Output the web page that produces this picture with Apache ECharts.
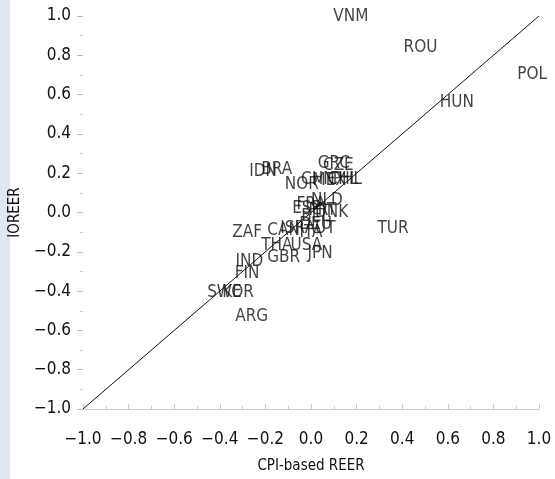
<!DOCTYPE html>
<html>
<head>
<meta charset="utf-8">
<script src="https://cdn.jsdelivr.net/npm/echarts@6/dist/echarts.min.js"></script>
<style>body{margin:0;background:#fff}#strip{position:absolute;left:0;top:0;width:10px;height:479px;background:#dfe7f3}</style>
</head>
<body>
<div id="strip"></div>
<div id="main" style="width:555px;height:479px;"></div>
<script>
var countries = ['VNM','ROU','POL','HUN','TUR','IDN','BRA','GRC','CZE','NOR','CHN','PHL','MEX','CHL','NLD','ESP','FRA','DNK','BEL','PRT','ZAF','CAN','ISR','ITA','AUT','DEU','THA','USA','GBR','JPN','IND','FIN','SWE','KOR','ARG'];
var cpiReer = [0.175,0.48,0.97,0.64,0.36,-0.21,-0.15,0.10,0.12,-0.04,0.03,0.16,0.08,0.14,0.07,-0.02,0.0,0.09,0.02,0.05,-0.28,-0.12,-0.08,0.0,0.04,0.02,-0.15,-0.02,-0.12,0.04,-0.27,-0.28,-0.38,-0.32,-0.26];
var ioReer = [0.995,0.84,0.70,0.56,-0.08,0.21,0.22,0.25,0.24,0.14,0.17,0.17,0.16,0.17,0.06,0.02,0.04,0.0,-0.02,0.01,-0.10,-0.09,-0.08,-0.10,-0.08,-0.06,-0.17,-0.17,-0.23,-0.21,-0.25,-0.31,-0.41,-0.41,-0.53];
var diagonal = [[-1,-1],[1,1]];

var font = '"DejaVu Sans Condensed","Liberation Sans Narrow",Roboto,sans-serif';
var fmt = function(v){return (v<0?'\u2212':'')+Math.abs(v).toFixed(1);};
var pts = countries.map(function(c,i){ return {name:c, value:[cpiReer[i], ioReer[i]]}; });
var chart = echarts.init(document.getElementById('main'));
chart.setOption({
  animation:false,
  grid:{left:81,right:16,top:16,bottom:69},
  xAxis:{type:'value',min:-1,max:1,interval:0.2,name:'CPI-based REER',nameLocation:'middle',nameGap:50,
    nameTextStyle:{color:'#111',fontSize:15,fontFamily:font},
    axisLine:{show:true,onZero:false,lineStyle:{color:'#ccc'}},axisTick:{show:true,inside:true,length:5,lineStyle:{color:'#ccc'}},
    minorTick:{show:true,splitNumber:2,length:3,lineStyle:{color:'#ccc'}},
    splitLine:{show:false},
    axisLabel:{color:'#111',fontSize:17,fontFamily:font,margin:22,formatter:fmt}},
  yAxis:{type:'value',min:-1,max:1,interval:0.2,name:'IOREER',nameLocation:'middle',nameGap:56,
    nameTextStyle:{color:'#111',fontSize:15,fontFamily:font},
    axisLine:{show:false,onZero:false},axisTick:{show:true,length:6,lineStyle:{color:'#bbb'}},
    minorTick:{show:true,splitNumber:2,length:3,lineStyle:{color:'#ccc'}},
    splitLine:{show:false},
    axisLabel:{color:'#111',fontSize:17,fontFamily:font,margin:12,formatter:fmt}},
  series:[
    {type:'line',data:diagonal,symbol:'none',lineStyle:{color:'#111',width:1},silent:true},
    {type:'scatter',data:pts,symbolSize:1,itemStyle:{color:'rgba(0,0,0,0)'},
     label:{show:true,position:'inside',formatter:'{b}',color:'#111',fontSize:17,fontFamily:font}}
  ]
});
</script>
</body>
</html>
